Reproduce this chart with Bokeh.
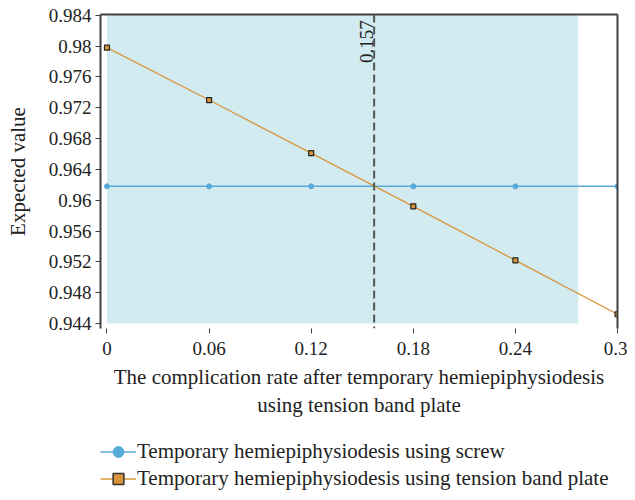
import math
from bokeh.plotting import figure
from bokeh.layouts import column
from bokeh.models import (Legend, LegendItem, LinearAxis, Span, Label,
                          FixedTicker, ColumnDataSource, Range1d)
from bokeh.embed import file_html
from bokeh.resources import INLINE

# ---- data ----
rates = [0, 0.06, 0.12, 0.18, 0.24, 0.3]
screw = [0.9618, 0.9618, 0.9618, 0.9618, 0.9618, 0.9618]
plate = [0.9798, 0.9730, 0.9661, 0.9592, 0.9522, 0.9452]
threshold = 0.157
shade_x = [0.0, 0.277]
shade_y = [0.944, 0.984]
y_ticks = [0.944, 0.948, 0.952, 0.956, 0.96, 0.964, 0.968, 0.972, 0.976, 0.98, 0.984]
y_tick_labels = ["0.944", "0.948", "0.952", "0.956", "0.96", "0.964", "0.968",
                 "0.972", "0.976", "0.98", "0.984"]
x_ticks = [0, 0.06, 0.12, 0.18, 0.24, 0.3]
x_tick_labels = ["0", "0.06", "0.12", "0.18", "0.24", "0.3"]
series_names = ["Temporary hemiepiphysiodesis using screw",
                "Temporary hemiepiphysiodesis using tension band plate"]

FONT = "Liberation Serif"
BLUE = "#58aad8"
ORANGE = "#d8953c"
SHADE = "#d1ebf0"
AXIS = "#404040"
TEXT = "#222222"

p = figure(frame_width=517, frame_height=314, output_backend="svg", toolbar_location=None,
           x_range=Range1d(-0.0038, 0.3), y_range=Range1d(0.94335, 0.9841),
           min_border_left=100, min_border_right=10, min_border_top=14,
           min_border_bottom=110)
p.outline_line_color = None
p.grid.visible = False
p.background_fill_color = "white"

# shaded region
p.quad(left=shade_x[0], right=shade_x[1], bottom=shade_y[0], top=shade_y[1],
       fill_color=SHADE, line_color=None)

# threshold line
p.add_layout(Span(location=threshold, dimension="height", line_color="#555555",
                  line_width=2, line_dash="8 4"))
p.add_layout(Label(x=threshold, y=shade_y[1], text=str(threshold), angle=math.pi / 2,
                   text_align="right", text_baseline="bottom", x_offset=-1, y_offset=-5,
                   text_font=FONT, text_font_size="19px", text_color=TEXT))

src = ColumnDataSource(dict(x=rates, screw=screw, plate=plate))
p.line("x", "screw", source=src, line_color=BLUE, line_width=1.5)
p.scatter("x", "screw", source=src, marker="circle", size=5, fill_color=BLUE,
          line_color=BLUE)
p.line("x", "plate", source=src, line_color=ORANGE, line_width=1.3)
p.scatter("x", "plate", source=src, marker="square", size=5, fill_color=ORANGE,
          line_color="#222222", line_width=1.2)

# axes
xa = p.xaxis[0]
xa.ticker = FixedTicker(ticks=x_ticks)
xa.major_label_overrides = {t: s for t, s in zip(x_ticks, x_tick_labels)}
xa.axis_line_color = None
xa.major_tick_line_color = AXIS
xa.major_tick_out = 5
xa.major_tick_in = 0
xa.minor_tick_line_color = None
xa.major_label_standoff = 8
xa.major_label_text_font = FONT
xa.major_label_text_font_size = "19px"
xa.major_label_text_color = TEXT
xa.axis_label = "The complication rate after temporary hemiepiphysiodesis\nusing tension band plate"
xa.axis_label_text_font = FONT
xa.axis_label_text_font_size = "21px"
xa.axis_label_text_font_style = "normal"
xa.axis_label_text_color = TEXT
xa.axis_label_standoff = 7

ya = p.yaxis[0]
ya.ticker = FixedTicker(ticks=y_ticks)
ya.major_label_overrides = {t: s for t, s in zip(y_ticks, y_tick_labels)}
ya.axis_line_color = AXIS
ya.axis_line_width = 2
ya.major_tick_line_color = AXIS
ya.major_tick_out = 5
ya.major_tick_in = 0
ya.minor_tick_line_color = None
ya.major_label_standoff = 4
ya.major_label_text_font = FONT
ya.major_label_text_font_size = "19px"
ya.major_label_text_color = TEXT
ya.axis_label = "Expected value"
ya.axis_label_text_font = FONT
ya.axis_label_text_font_size = "21px"
ya.axis_label_text_font_style = "normal"
ya.axis_label_text_color = TEXT
ya.axis_label_standoff = 16

for side in ("above", "right"):
    ax = LinearAxis(axis_line_color=AXIS, axis_line_width=2, major_tick_line_color=None,
                    minor_tick_line_color=None, major_label_text_font_size="0px",
                    major_label_standoff=0, major_tick_out=0, major_tick_in=0)
    p.add_layout(ax, side)

# ---- legend strip (separate small figure below the chart) ----
lf = figure(width=627, height=54, output_backend="svg", toolbar_location=None,
            x_range=Range1d(0, 1), y_range=Range1d(0, 1),
            x_axis_location=None, y_axis_location=None,
            min_border=0, min_border_left=0, min_border_right=0,
            min_border_top=0, min_border_bottom=0)
lf.outline_line_color = None
lf.grid.visible = False
off = ColumnDataSource(dict(x=[-5.0], y=[-5.0]))
l1 = lf.line("x", "y", source=off, line_color=BLUE, line_width=1.5)
s1 = lf.scatter("x", "y", source=off, marker="circle", size=12, fill_color=BLUE,
                line_color=BLUE)
l2 = lf.line("x", "y", source=off, line_color=ORANGE, line_width=1.5)
s2 = lf.scatter("x", "y", source=off, marker="square", size=10, fill_color=ORANGE,
                line_color="#333333", line_width=1.5)
legend = Legend(items=[LegendItem(label=series_names[0], renderers=[l1, s1]),
                       LegendItem(label=series_names[1], renderers=[l2, s2])],
                location=(0, 0), orientation="vertical",
                label_text_font=FONT, label_text_font_size="21px",
                label_text_color=TEXT, glyph_width=36, glyph_height=27,
                label_height=22, label_standoff=1, spacing=0, padding=0,
                margin=0, border_line_color=None, background_fill_alpha=0)
lf.add_layout(legend, "center")

layout = column(p, lf, spacing=0)
open("out.html", "w").write(file_html(layout, INLINE))
